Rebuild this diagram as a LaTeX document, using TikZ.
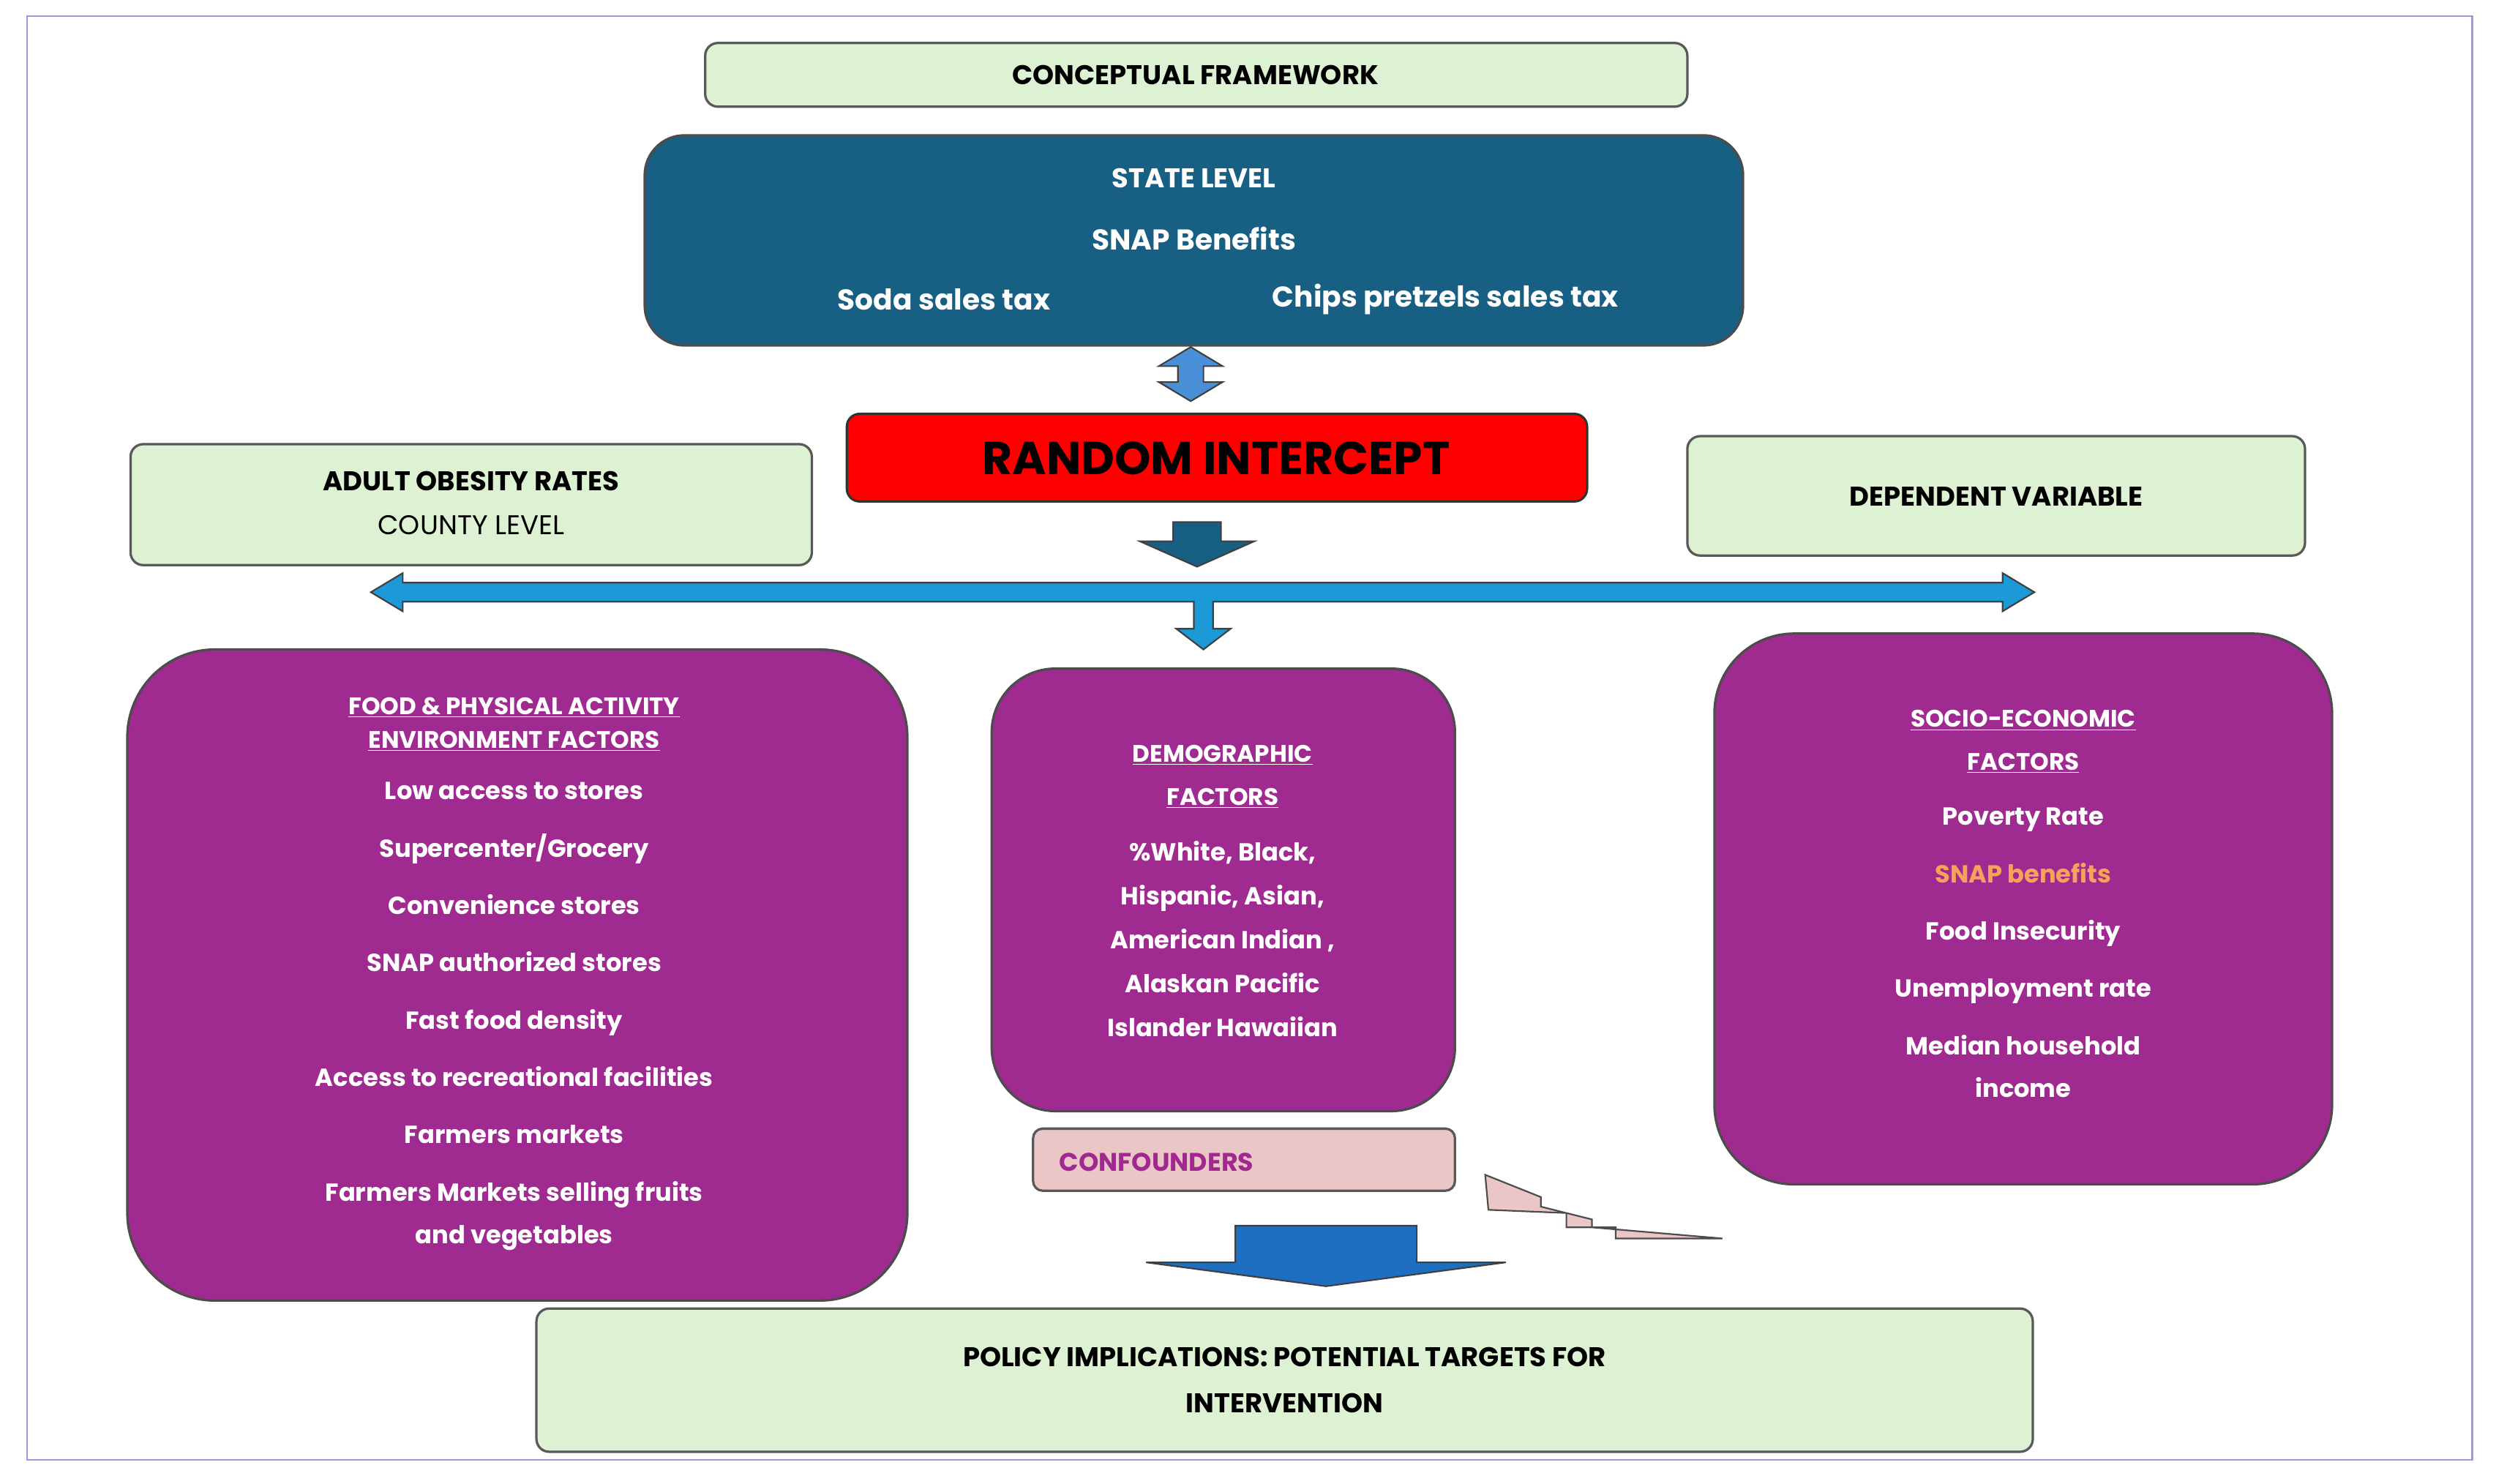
\documentclass[tikz,border=0pt]{standalone}
\usepackage{fontspec}
\setmainfont{Poppins}
\usetikzlibrary{calc}
\definecolor{lgreen}{HTML}{DDF2D3}
\definecolor{dblue}{HTML}{185F84}
\definecolor{purp}{HTML}{A02B90}
\definecolor{abl}{HTML}{1C9AD8}
\definecolor{abl2}{HTML}{4A90D9}
\definecolor{bigbl}{HTML}{1E6FC2}
\definecolor{pinkc}{HTML}{EAC6C6}
\definecolor{magt}{HTML}{A0288F}
\definecolor{orng}{HTML}{F5A35A}
\tikzset{
 gbox/.style={draw=black!65,line width=1.5pt,fill=lgreen,rounded corners=8pt,font=\bfseries\fontsize{17}{20}\selectfont,align=center},
 pbox/.style={draw=black!70,line width=1.5pt,fill=purp,text=white,font=\bfseries\fontsize{15}{27}\selectfont,align=center},
 blk/.style={draw=black!75,line width=1pt,line join=miter},
}
\begin{document}
\begin{tikzpicture}[x=1pt,y=-1pt]
\useasboundingbox (0,0) rectangle (1568,932);
\draw[black!30!blue!40,line width=1pt] (17,10) rectangle (1553,917);
% top
\draw[gbox] (443,27) rectangle (1060,67);
\node[font=\bfseries\fontsize{17}{20}\selectfont] (cf) at (751,47) {CONCEPTUAL FRAMEWORK};
\draw[draw=black!70,line width=1.5pt,fill=dblue,rounded corners=25pt] (405,85) rectangle (1095,217);
\node[text=white,font=\bfseries\fontsize{17}{20}\selectfont] (sl) at (750,112) {STATE LEVEL};
\node[text=white,font=\bfseries\fontsize{18}{20}\selectfont] (sb) at (750,150) {SNAP Benefits};
\node[text=white,font=\bfseries\fontsize{18}{20}\selectfont] (st) at (593,188) {Soda sales tax};
\node[text=white,font=\bfseries\fontsize{18}{20}\selectfont] (ct) at (908,188) {Chips pretzels sales tax};
% double vertical arrow
\fill[blk,fill=abl2] (748,218) -- (768,230) -- (756,230) -- (756,240) -- (768,240) -- (748,252) -- (728,240) -- (740,240) -- (740,230) -- (728,230) -- cycle;
% random intercept
\draw[draw=black!80,line width=1.5pt,fill=red,rounded corners=8pt] (532,260) rectangle (997,315);
\node[font=\bfseries\fontsize{29}{30}\selectfont] (ri) at (764,288) {RANDOM INTERCEPT};
% side green boxes
\draw[gbox] (82,279) rectangle (510,355);
\node[font=\bfseries\fontsize{17}{20}\selectfont] (ao) at (296,302) {ADULT OBESITY RATES};
\node[font=\fontsize{17}{20}\selectfont] (cl) at (296,330) {COUNTY LEVEL};
\draw[gbox] (1060,274) rectangle (1448,349);
\node[font=\bfseries\fontsize{17}{20}\selectfont] (dv) at (1254,312) {DEPENDENT VARIABLE};
% dark down arrow
\fill[blk,fill=dblue] (737,328) -- (767,328) -- (767,340) -- (788,340) -- (752,356) -- (716,340) -- (737,340) -- cycle;
% horizontal double arrow
\fill[blk,fill=abl] (233,372) -- (253,360) -- (253,366) -- (1258,366) -- (1258,360) -- (1278,372) -- (1258,384) -- (1258,378) -- (762,378) -- (762,395) -- (773,395) -- (756,408) -- (739,395) -- (750,395) -- (750,378) -- (253,378) -- (253,384) -- cycle;
% purple boxes
\draw[pbox,rounded corners=55pt] (80,408) rectangle (570,817);
\node[pbox,draw=none,fill=none] (fp) at (323,455) {\underline{FOOD \& PHYSICAL ACTIVITY}\\[-6pt]\underline{ENVIRONMENT FACTORS}};
\node[text=white,font=\bfseries\fontsize{15.5}{27}\selectfont,align=center,anchor=north] (fpl) at (323,488) {Low access to stores\\[9pt]Supercenter/Grocery\\[9pt]Convenience stores\\[9pt]SNAP authorized stores\\[9pt]Fast food density\\[9pt]Access to recreational facilities\\[9pt]Farmers markets\\[9pt]Farmers Markets selling fruits\\and vegetables};
\draw[pbox,rounded corners=40pt] (623,420) rectangle (914,698);
\node[pbox,draw=none,fill=none] (dm) at (768,488) {\underline{DEMOGRAPHIC}\\\underline{FACTORS}};
\node[text=white,font=\bfseries\fontsize{15.5}{27.5}\selectfont,align=center,anchor=north] (dml) at (768,525) {\%White, Black,\\Hispanic, Asian,\\American Indian ,\\Alaskan Pacific\\Islander Hawaiian};
\draw[pbox,rounded corners=50pt] (1077,398) rectangle (1465,744);
\node[pbox,draw=none,fill=none] (se) at (1271,466) {\underline{SOCIO-ECONOMIC}\\\underline{FACTORS}};
\node[text=white,font=\bfseries\fontsize{15.5}{27}\selectfont,align=center,anchor=north] (sel) at (1271,504) {Poverty Rate\\[9pt]\textcolor{orng}{SNAP benefits}\\[9pt]Food Insecurity\\[9pt]Unemployment rate\\[9pt]Median household\\income};
% confounders
\draw[draw=black!65,line width=1.5pt,fill=pinkc,rounded corners=6pt] (649,709) rectangle (914,748);
\node[text=magt,font=\bfseries\fontsize{16}{20}\selectfont,anchor=west] (cn) at (662,730) {CONFOUNDERS};
\fill[draw=black!70,line width=1pt,fill=pinkc] (933,738) -- (968,752) -- (968,758) -- (1000,766) -- (1000,771) -- (1082,778) -- (1015,778) -- (1015,771) -- (984,771) -- (984,762) -- (935,760) -- cycle;
% big blue arrow
\fill[blk,fill=bigbl] (776,770) -- (890,770) -- (890,793) -- (946,793) -- (833,808) -- (720,793) -- (776,793) -- cycle;
% policy
\draw[gbox] (337,822) rectangle (1277,912);
\node[font=\bfseries\fontsize{17}{29}\selectfont,align=center] (pi) at (807,867) {POLICY IMPLICATIONS: POTENTIAL TARGETS FOR\\INTERVENTION};
\end{tikzpicture}
\end{document}
